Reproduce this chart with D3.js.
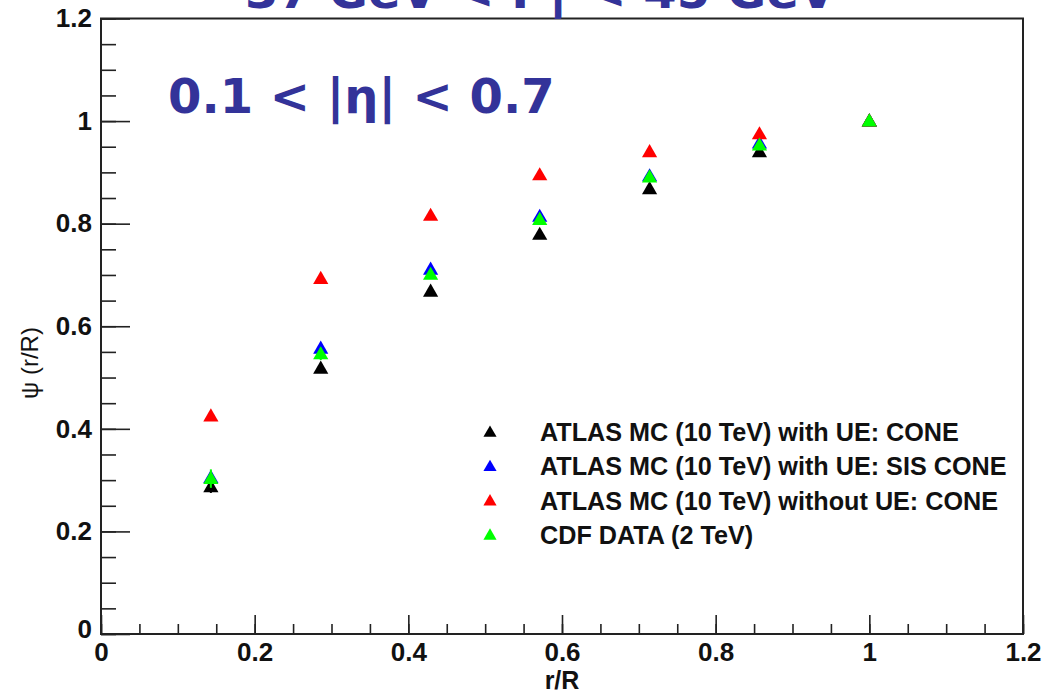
<!DOCTYPE html>
<html>
<head>
<meta charset="utf-8">
<script src="https://cdn.jsdelivr.net/npm/d3@7"></script>
<style>
  body { margin: 0; background: #fff; }
  svg { display: block; }
</style>
</head>
<body>
<div id="chart"></div>
<script>
// r/R bins (R = 0.7, steps of 0.1)
const rBins = [0.143, 0.286, 0.429, 0.571, 0.714, 0.857, 1.0];

const coneUE    = [0.287, 0.518, 0.668, 0.779, 0.868, 0.940, 1.0];
const sisConeUE = [0.305, 0.557, 0.711, 0.814, 0.893, 0.957, 1.0];
const coneNoUE  = [0.425, 0.693, 0.816, 0.895, 0.940, 0.975, 1.0];
const cdfData   = [0.303, 0.546, 0.701, 0.808, 0.891, 0.953, 1.0];
const cdfErr    = [0.018, 0.012, 0.008, 0.005, 0.004, 0.003, 0];
const coneUEErr = [0.012, 0.008, 0.006, 0.004, 0.003, 0.002, 0];

const seriesNames = [
  "ATLAS MC (10 TeV) with UE: CONE",
  "ATLAS MC (10 TeV) with UE: SIS CONE",
  "ATLAS MC (10 TeV) without UE: CONE",
  "CDF DATA (2 TeV)"
];
const seriesColors = ["#000000", "#0000ff", "#ff0000", "#00ff00"];

const xTicks = [0, 0.2, 0.4, 0.6, 0.8, 1, 1.2];
const yTicks = [0, 0.2, 0.4, 0.6, 0.8, 1, 1.2];

const W = 1046, H = 693;
const frame = { left: 101, right: 1023, top: 18.5, bottom: 634 };

const svg = d3.select("#chart")
  .append("svg")
    .attr("width", W)
    .attr("height", H);

const x = d3.scaleLinear().domain([0, 1.2]).range([frame.left, frame.right]);
const y = d3.scaleLinear().domain([0, 1.2]).range([frame.bottom, frame.top]);

const labelFont = "'Liberation Sans', Arial, Helvetica, sans-serif";
const fmt = d3.format("~g");

// minor ticks every 0.05
const minor = d3.range(0, 1.2001, 0.05);

svg.append("g")
  .attr("transform", "translate(0," + frame.bottom + ")")
  .call(d3.axisBottom(x).tickValues(minor).tickSize(-10).tickFormat(""))
  .call(g => g.select(".domain").remove());

const xAxis = svg.append("g")
  .attr("transform", "translate(0," + frame.bottom + ")")
  .call(d3.axisBottom(x).tickValues(xTicks).tickSize(-19).tickFormat(fmt).tickPadding(9))
  .call(g => g.select(".domain").remove());

svg.append("g")
  .attr("transform", "translate(" + frame.left + ",0)")
  .call(d3.axisLeft(y).tickValues(minor).tickSize(-15).tickFormat(""))
  .call(g => g.select(".domain").remove());

const yAxis = svg.append("g")
  .attr("transform", "translate(" + frame.left + ",0)")
  .call(d3.axisLeft(y).tickValues(yTicks).tickSize(-29).tickFormat(fmt).tickPadding(9))
  .call(g => g.select(".domain").remove());

svg.selectAll(".tick line")
  .attr("stroke", "#222")
  .attr("stroke-width", 1.6);

svg.selectAll(".tick text")
  .attr("fill", "#111")
  .style("font-family", labelFont)
  .style("font-weight", "bold")
  .style("font-size", "26px");

// ROOT puts the y zero label a bit higher
yAxis.selectAll(".tick text").filter(d => d === 0).attr("dy", "0.15em");

// frame
svg.append("rect")
  .attr("x", frame.left)
  .attr("y", frame.top)
  .attr("width", frame.right - frame.left)
  .attr("height", frame.bottom - frame.top)
  .attr("fill", "none")
  .attr("stroke", "#222")
  .attr("stroke-width", 2);

// axis titles
svg.append("text")
  .attr("x", (frame.left + frame.right) / 2)
  .attr("y", 689)
  .attr("text-anchor", "middle")
  .style("font-family", labelFont)
  .style("font-weight", "bold")
  .style("font-size", "25px")
  .attr("fill", "#111")
  .text("r/R");

svg.append("text")
  .attr("transform", "translate(38,363) rotate(-90)")
  .attr("text-anchor", "middle")
  .style("font-family", labelFont)
  .style("font-size", "24px")
  .attr("fill", "#111")
  .text("\u03c8 (r/R)");

// markers
const tri = d3.symbol().type(d3.symbolTriangle).size(100);

const series = [
  { values: coneUE, err: coneUEErr },
  { values: sisConeUE, err: null },
  { values: coneNoUE, err: null },
  { values: cdfData, err: cdfErr }
];

series.forEach((s, i) => {
  const pts = rBins.map((r, j) => ({ r: r, v: s.values[j], e: s.err ? s.err[j] : 0 }));
  const g = svg.append("g");
  g.selectAll("line.err")
    .data(pts.filter(d => d.e > 0))
    .enter().append("line")
      .attr("class", "err")
      .attr("x1", d => x(d.r))
      .attr("x2", d => x(d.r))
      .attr("y1", d => y(d.v - d.e))
      .attr("y2", d => y(d.v + d.e))
      .attr("stroke", seriesColors[i])
      .attr("stroke-width", 2);
  g.selectAll("path")
    .data(pts)
    .enter().append("path")
      .attr("d", tri)
      .attr("transform", d => "translate(" + x(d.r) + "," + (y(d.v) + 1) + ")")
      .attr("fill", seriesColors[i]);
});

// legend
const legend = svg.append("g");
seriesNames.forEach((name, i) => {
  const ly = 432 + i * 34.3;
  legend.append("path")
    .attr("d", d3.symbol().type(d3.symbolTriangle).size(75))
    .attr("transform", "translate(490," + (ly + 1) + ")")
    .attr("fill", seriesColors[i]);
  legend.append("text")
    .attr("x", 540)
    .attr("y", ly + 9)
    .style("font-family", labelFont)
    .style("font-weight", "bold")
    .style("font-size", "25.2px")
    .attr("fill", "#111")
    .text(name);
});

// region labels
const blue = "#333399";
svg.append("text")
  .attr("x", 168)
  .attr("y", 113)
  .style("font-family", "'DejaVu Sans', sans-serif")
  .style("font-weight", "bold")
  .style("font-size", "48px")
  .attr("fill", blue)
  .text("0.1 < |\u03b7| < 0.7");

const title = svg.append("text")
  .attr("x", 245)
  .attr("y", 8)
  .style("font-family", "'DejaVu Sans', sans-serif")
  .style("font-weight", "bold")
  .style("font-size", "48px")
  .attr("fill", blue);
title.append("tspan").text("37 GeV < P");
title.append("tspan").attr("dy", 11).style("font-size", "34px").text("T");
title.append("tspan").attr("dy", -11).text(" < 45 GeV");
</script>
</body>
</html>
